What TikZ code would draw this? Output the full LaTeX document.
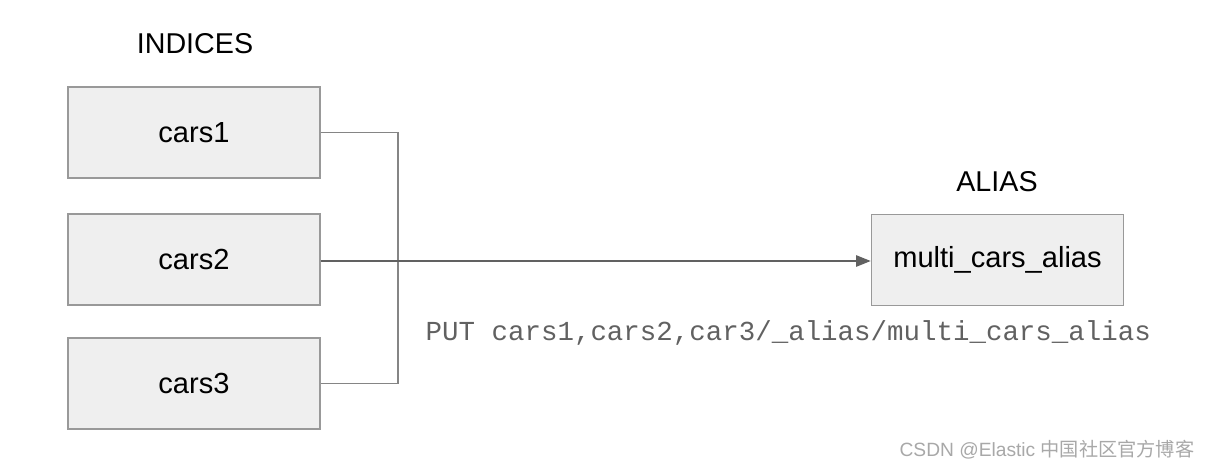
\documentclass[tikz,border=0pt]{standalone}
\usepackage{fontspec}
\setmainfont{Liberation Sans}
\setmonofont{Liberation Mono}
\newfontfamily\cjkfont{Noto Sans CJK SC}
\usetikzlibrary{arrows.meta}
\definecolor{boxfill}{HTML}{EFEFEF}
\definecolor{boxline}{HTML}{999999}
\definecolor{wireline}{HTML}{858585}
\definecolor{markgray}{HTML}{A8A8A8}
\tikzset{
  indexbox/.style={draw=boxline, fill=boxfill, line width=1.1pt, minimum width=189pt, minimum height=68.5pt, inner sep=0pt, font=\fontsize{21.8}{24}\selectfont},
  headtext/.style={font=\fontsize{21.5}{24}\selectfont},
  wire/.style={draw=wireline, line width=1.1pt},
}
\begin{document}
\begin{tikzpicture}[x=0.75pt,y=-0.75pt]
            \useasboundingbox (0,0) rectangle (1214,468);
            % Titulos
            \node[headtext] (indices) at (195,44) {INDICES};
            \node[headtext] (aliashead) at (997,182) {ALIAS};
            % Indices
            \node[indexbox] (cars1) at (194,132.5) {cars1};
            \node[indexbox] (cars2) at (194,259.5) {cars2};
            \node[indexbox] (cars3) at (194,383.5) {cars3};
            % Alias
            \node[indexbox] (alias) at (997.5,260) {multi\_cars\_alias};
            % Union de los indices
            \coordinate (joint) at (398,261);
            \draw[wire] (cars1.east) -| (joint) |- (cars3.east);
            \draw[wire, draw=black!62, -{Triangle[length=11pt, width=8.5pt]}] (cars2.east |- joint) -- (alias.west |- joint);
            % Peticion
            \node[font=\fontsize{20.6}{24}\ttfamily, anchor=west, text=black!62] (request) at (421,333) {PUT cars1,cars2,car3/\_alias/multi\_cars\_alias};
            % Marca
            \node[font=\fontsize{14.4}{16}\selectfont, text=markgray, anchor=east] (mark) at (1199,450) {CSDN @Elastic {\cjkfont 中国社区官方博客}};
\end{tikzpicture}
\end{document}
